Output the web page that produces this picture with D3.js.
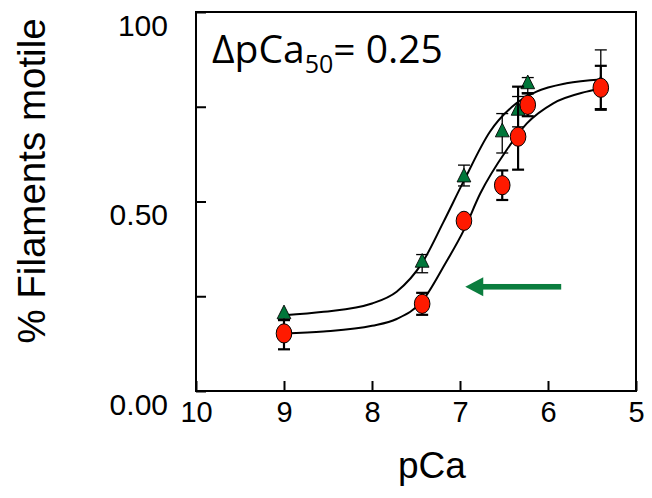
<!DOCTYPE html>
<html>
<head>
<meta charset="utf-8">
<script src="https://cdn.jsdelivr.net/npm/d3@7"></script>
<style>
    body { margin: 0; background: #fff; }
    svg { display: block; }
</style>
</head>
<body>
<div id="chart"></div>
<script>
// Data
let pCaValues = [9.0, 7.43, 6.955, 6.52, 6.34, 6.23, 5.40];

// green triangles (upper curve)
let triValues = [0.200, 0.336, 0.561, 0.680, 0.737, 0.807, 0.805];
let triErrHi = [0.0, 0.024, 0.035, 0.052, 0.04, 0.02, 0.095];
let triErrLo = [0.013, 0.024, 0.02, 0.052, 0.04, 0.02, 0.06];

// red circles (lower curve)
let circValues = [0.152, 0.230, 0.449, 0.543, 0.671, 0.755, 0.800];
let circErrHi = [0.035, 0.029, 0.0, 0.039, 0.132, 0.03, 0.058];
let circErrLo = [0.042, 0.029, 0.0, 0.039, 0.087, 0.03, 0.058];

// fitted curves
let triFitX = [9.0, 8.55, 8.0, 7.72, 7.43, 7.19, 6.955, 6.66, 6.36, 6.13, 5.79, 5.40];
let triFitY = [0.200, 0.209, 0.231, 0.262, 0.338, 0.445, 0.555, 0.684, 0.759, 0.790, 0.812, 0.822];
let circFitX = [9.0, 8.55, 8.0, 7.72, 7.43, 7.17, 6.955, 6.77, 6.47, 6.24, 5.94, 5.56, 5.40];
let circFitY = [0.152, 0.157, 0.172, 0.190, 0.237, 0.335, 0.425, 0.521, 0.636, 0.706, 0.759, 0.790, 0.799];

let xTickVals = [10, 9, 8, 7, 6, 5];
let yTickVals = [0, 0.25, 0.5, 0.75, 1];
let yTickLabels = ["0.00", "", "0.50", "", "100"];

// arrow (data units)
let arrowFrom = 5.85;
let arrowTo = 6.94;
let arrowLevel = 0.275;

let width = 652;
let height = 498;
let plot = { left: 196, right: 636, top: 12, bottom: 391 };

let x = d3.scaleLinear().domain([10, 5]).range([plot.left, plot.right]);
let y = d3.scaleLinear().domain([0, 1]).range([plot.bottom, plot.top]);

let svg = d3
    .select("#chart")
    .append("svg")
    .attr("width", width)
    .attr("height", height)
    .style("font-family", "'Liberation Sans', Arial, sans-serif");

svg.append("rect").attr("width", width).attr("height", height).attr("fill", "#fff");

// frame
svg.append("rect")
    .attr("x", plot.left)
    .attr("y", plot.top)
    .attr("width", plot.right - plot.left)
    .attr("height", plot.bottom - plot.top)
    .attr("fill", "none")
    .attr("stroke", "#000")
    .attr("stroke-width", 2);

// x axis, ticks pointing inward
let xAxis = svg
    .append("g")
    .attr("transform", `translate(0,${plot.bottom})`)
    .call(d3.axisBottom(x).tickValues(xTickVals).tickSize(-10).tickFormat(d3.format("d")));
xAxis.select(".domain").remove();
xAxis.selectAll(".tick line").attr("stroke", "#000").attr("stroke-width", 2);
xAxis
    .selectAll(".tick text")
    .attr("y", 0)
    .attr("dy", 31)
    .style("font-size", "29px")
    .attr("fill", "#000");

// y axis, ticks pointing inward
let yAxis = svg
    .append("g")
    .attr("transform", `translate(${plot.left},0)`)
    .call(
        d3.axisLeft(y)
            .tickValues(yTickVals)
            .tickSize(-10)
            .tickFormat((d, i) => yTickLabels[i])
    );
yAxis.select(".domain").remove();
yAxis.selectAll(".tick line").attr("stroke", "#000").attr("stroke-width", 2);
yAxis
    .selectAll(".tick text")
    .attr("x", -28)
    .attr("dy", 23)
    .style("font-size", "30px")
    .attr("fill", "#000");

// axis titles
svg.append("text")
    .attr("x", 432)
    .attr("y", 478)
    .attr("text-anchor", "middle")
    .style("font-size", "37px")
    .text("pCa");

svg.append("text")
    .attr("transform", "translate(45,181) rotate(-90)")
    .attr("text-anchor", "middle")
    .style("font-size", "38.5px")
    .text("% Filaments motile");

// annotation
let note = svg
    .append("text")
    .attr("x", 212)
    .attr("y", 63)
    .style("font-family", "'Open Sans', sans-serif")
    .style("font-size", "39px");
note.append("tspan").text("\u0394pCa");
note.append("tspan").attr("dy", 10).style("font-size", "25px").text("50");
note.append("tspan").attr("dy", -10).text("= 0.25");

// fitted curves
let line = d3
    .line()
    .x((d) => x(d[0]))
    .y((d) => y(d[1]))
    .curve(d3.curveMonotoneX);

svg.append("path")
    .datum(d3.zip(triFitX, triFitY))
    .attr("d", line)
    .attr("fill", "none")
    .attr("stroke", "#000")
    .attr("stroke-width", 2);

svg.append("path")
    .datum(d3.zip(circFitX, circFitY))
    .attr("d", line)
    .attr("fill", "none")
    .attr("stroke", "#000")
    .attr("stroke-width", 2);

// arrow
let arrowG = svg.append("g").attr("fill", "#0b7d3e").attr("stroke", "none");
arrowG
    .append("rect")
    .attr("x", x(arrowTo) + 15)
    .attr("y", y(arrowLevel) - 2.8)
    .attr("width", x(arrowFrom) - x(arrowTo) - 15)
    .attr("height", 5.6);
arrowG
    .append("path")
    .attr(
        "d",
        `M${x(arrowTo)},${y(arrowLevel)}L${x(arrowTo) + 18},${y(arrowLevel) - 9.5}L${x(arrowTo) + 18},${y(arrowLevel) + 9.5}Z`
    );

function errorBars(values, hi, lo, width, capW) {
    let g = svg.append("g").attr("stroke", "#000").attr("stroke-width", width);
    pCaValues.forEach((p, i) => {
        let top = y(values[i] + hi[i]);
        let bot = y(values[i] - lo[i]);
        if (top === bot) return;
        g.append("line").attr("x1", x(p)).attr("x2", x(p)).attr("y1", top).attr("y2", bot);
        if (hi[i] > 0)
            g.append("line").attr("x1", x(p) - capW).attr("x2", x(p) + capW).attr("y1", top).attr("y2", top);
        if (lo[i] > 0)
            g.append("line").attr("x1", x(p) - capW).attr("x2", x(p) + capW).attr("y1", bot).attr("y2", bot);
    });
}

// triangles
errorBars(triValues, triErrHi, triErrLo, 1.3, 6);
let tri = d3.symbol().type(d3.symbolTriangle).size(82);
svg.append("g")
    .selectAll("path")
    .data(d3.zip(pCaValues, triValues))
    .join("path")
    .attr("d", tri)
    .attr("transform", (d) => `translate(${x(d[0])},${y(d[1]) - 1}) scale(1,1.15)`)
    .attr("fill", "#00773a")
    .attr("stroke", "#000")
    .attr("stroke-width", 0.8);

// circles
errorBars(circValues, circErrHi, circErrLo, 2.2, 6);
svg.append("g")
    .selectAll("ellipse")
    .data(d3.zip(pCaValues, circValues))
    .join("ellipse")
    .attr("cx", (d) => x(d[0]))
    .attr("cy", (d) => y(d[1]))
    .attr("rx", 7.8)
    .attr("ry", 9.6)
    .attr("fill", "#ff1a00")
    .attr("stroke", "#000")
    .attr("stroke-width", 1);
</script>
</body>
</html>
